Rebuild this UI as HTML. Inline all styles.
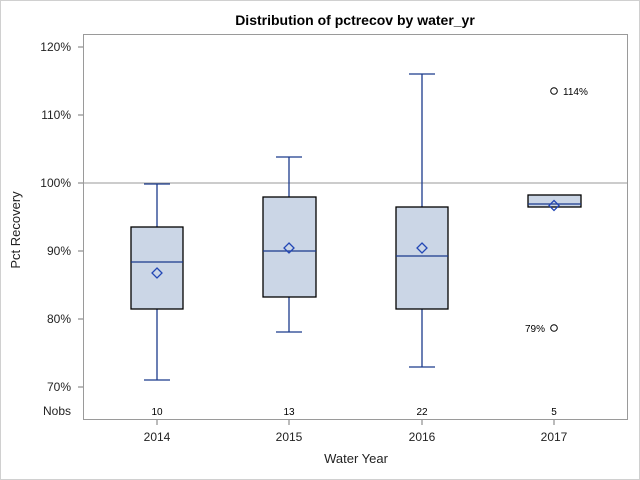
<!DOCTYPE html><html><head><style>body{margin:0;background:#fff}svg{display:block;font-family:"Liberation Sans",sans-serif}</style></head><body>
<svg width="640" height="480" xmlns="http://www.w3.org/2000/svg">
<rect x="0.5" y="0.5" width="639" height="479" fill="#fff" stroke="#d0d0d0"/>
<text x="355" y="25" font-size="14" font-weight="bold" text-anchor="middle">Distribution of pctrecov by water_yr</text>
<rect x="83.5" y="34.5" width="544" height="385" fill="none" stroke="#9a9a9a"/>
<line x1="84" y1="183" x2="627" y2="183" stroke="#9a9a9a"/>
<g font-size="12" text-anchor="end" fill="#222">
<text x="71" y="51">120%</text><text x="71" y="119">110%</text><text x="71" y="187">100%</text><text x="71" y="255">90%</text><text x="71" y="323">80%</text><text x="71" y="391">70%</text><text x="71" y="415">Nobs</text></g>
<g stroke="#777"><line x1="78" y1="47" x2="83" y2="47"/><line x1="78" y1="115" x2="83" y2="115"/><line x1="78" y1="183" x2="83" y2="183"/><line x1="78" y1="251" x2="83" y2="251"/><line x1="78" y1="319" x2="83" y2="319"/><line x1="78" y1="387" x2="83" y2="387"/>
<line x1="157" y1="420" x2="157" y2="425"/><line x1="289" y1="420" x2="289" y2="425"/><line x1="422" y1="420" x2="422" y2="425"/><line x1="554" y1="420" x2="554" y2="425"/></g>
<text x="20" y="230" font-size="13" text-anchor="middle" transform="rotate(-90 20 230)" fill="#222">Pct Recovery</text>
<g font-size="12" text-anchor="middle" fill="#222"><text x="157" y="441">2014</text><text x="289" y="441">2015</text><text x="422" y="441">2016</text><text x="554" y="441">2017</text>
<text x="356" y="463" font-size="13">Water Year</text></g>
<g font-size="10" text-anchor="middle"><text x="157" y="415">10</text><text x="289" y="415">13</text><text x="422" y="415">22</text><text x="554" y="415">5</text></g>
<g stroke="#1b3a8c" stroke-width="1.3" fill="none">
<line x1="157" y1="184" x2="157" y2="227"/><line x1="157" y1="309" x2="157" y2="380"/><line x1="144" y1="184" x2="170" y2="184"/><line x1="144" y1="380" x2="170" y2="380"/>
<line x1="289" y1="157" x2="289" y2="197"/><line x1="289" y1="297" x2="289" y2="332"/><line x1="276" y1="157" x2="302" y2="157"/><line x1="276" y1="332" x2="302" y2="332"/>
<line x1="422" y1="74" x2="422" y2="207"/><line x1="422" y1="309" x2="422" y2="367"/><line x1="409" y1="74" x2="435" y2="74"/><line x1="409" y1="367" x2="435" y2="367"/>
</g>
<g fill="#cbd6e6" stroke="#000" stroke-width="1.3">
<rect x="131" y="227" width="52" height="82"/><rect x="263" y="197" width="53" height="100"/><rect x="396" y="207" width="52" height="102"/><rect x="528" y="195" width="53" height="12"/></g>
<g stroke="#1b3a8c" stroke-width="1.3">
<line x1="131" y1="262" x2="183" y2="262"/><line x1="263" y1="251" x2="316" y2="251"/><line x1="396" y1="256" x2="448" y2="256"/><line x1="528" y1="204" x2="581" y2="204"/></g>
<g fill="none" stroke="#2347b5" stroke-width="1.3">
<path d="M157 268l5 5-5 5-5-5z"/><path d="M289 243l5 5-5 5-5-5z"/><path d="M422 243l5 5-5 5-5-5z"/><path d="M554 200.5l5 5-5 5-5-5z"/></g>
<g fill="none" stroke="#000"><circle cx="554" cy="91" r="3.3"/><circle cx="554" cy="328" r="3.3"/></g>
<g font-size="10"><text x="563" y="95">114%</text><text x="545" y="332" text-anchor="end">79%</text></g>
</svg></body></html>
